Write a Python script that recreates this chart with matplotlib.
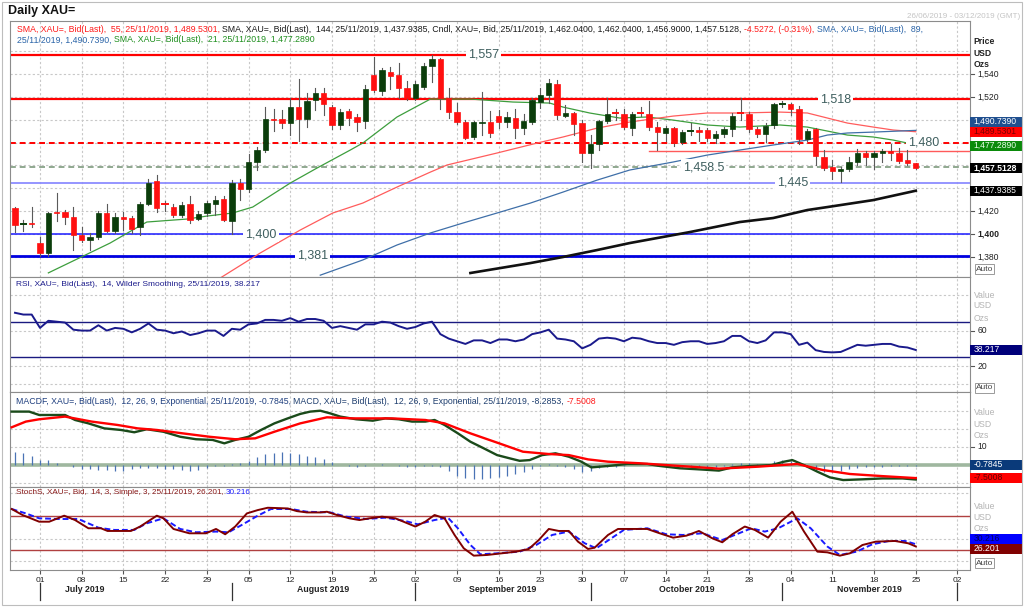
import numpy as np
import matplotlib.pyplot as plt
from matplotlib.patches import Rectangle

plt.rcParams['font.family'] = ['Liberation Sans', 'DejaVu Sans']

# one candle per trading day, 26/06/2019 .. 25/11/2019 (index 0 .. 108)
opens = [1423, 1409, 1410, 1392, 1383, 1419.5, 1419.5, 1415, 1399, 1395,
         1397, 1418, 1403, 1415, 1414, 1406, 1426, 1446, 1426, 1424,
         1417, 1426, 1413, 1418, 1426, 1430.5, 1411, 1445, 1439, 1463,
         1473.5, 1501, 1500.6, 1497, 1511, 1501, 1517, 1523.6, 1511, 1495,
         1507.6, 1502.6, 1499, 1539, 1525, 1541.5, 1539, 1527.5, 1519, 1529,
         1547, 1553, 1518.7, 1506.5, 1498, 1485, 1497, 1498, 1503, 1498,
         1501.7, 1493, 1498, 1515.8, 1522, 1531, 1503.5, 1505.6, 1497, 1471,
         1478.7, 1499, 1505.5, 1505, 1492.5, 1506, 1505, 1494, 1488, 1492.5,
         1480.8, 1490.5, 1491, 1491, 1483.7, 1487.5, 1491.6, 1505.5, 1505, 1491.6,
         1487.5, 1495.4, 1514, 1513.7, 1509, 1483, 1491.6, 1467.6, 1458.4, 1455.4,
         1456.6, 1463, 1471, 1467.6, 1471, 1472.9, 1471, 1464.7, 1462.04]
closes = [1408, 1409.8, 1409, 1383, 1418, 1418, 1415, 1399, 1395, 1397,
          1418, 1403, 1415, 1413, 1404, 1426, 1445, 1423, 1425.5, 1417,
          1425, 1412, 1417.5, 1427, 1430, 1412, 1445, 1439, 1463, 1473.5,
          1500.6, 1499.5, 1497, 1511, 1501, 1516.6, 1523, 1513.5, 1495, 1507,
          1501.7, 1498, 1527, 1526, 1543.5, 1538.5, 1527.5, 1519, 1531, 1547,
          1553, 1518.7, 1506.5, 1497.7, 1484, 1497.7, 1498, 1488, 1498, 1502.6,
          1493, 1499, 1517, 1521.6, 1531.8, 1504, 1505.6, 1496, 1471, 1478.7,
          1499, 1505, 1505, 1494, 1505, 1505.6, 1494, 1489.5, 1492.5, 1480,
          1489.5, 1491, 1489.5, 1483.7, 1487.5, 1491.6, 1503, 1505, 1491.6, 1487.5,
          1494.5, 1513.7, 1514.5, 1509, 1483, 1490.4, 1468, 1457.5, 1455.4, 1456.6,
          1463, 1471, 1467, 1470.6, 1472.9, 1471, 1464, 1461.8, 1457.51]
highs = [1424, 1412, 1424, 1397, 1419, 1436, 1421, 1424, 1406, 1400.6,
         1420, 1426, 1418, 1419, 1416, 1428, 1448, 1452, 1429, 1426,
         1428, 1433, 1420, 1429, 1433, 1433, 1447, 1448, 1470, 1476,
         1511, 1509, 1508.5, 1519, 1535.6, 1523, 1527.5, 1528, 1513, 1509,
         1509, 1505, 1530, 1555, 1545, 1546, 1550, 1534, 1534, 1550,
         1557, 1554, 1528, 1515, 1500, 1499, 1524, 1507.6, 1508.5, 1507,
         1509.4, 1505, 1519, 1528, 1536, 1535, 1513, 1507, 1500, 1486.6,
         1500, 1518.7, 1509, 1509, 1507, 1511, 1516.6, 1498, 1494.5, 1494,
         1491, 1496.8, 1494, 1492.5, 1490, 1494, 1505.6, 1518.7, 1507, 1493.6,
         1497, 1515, 1516, 1515, 1511.6, 1491.6, 1493, 1473.5, 1465, 1458.4,
         1467, 1474, 1473, 1472.9, 1474, 1479, 1475, 1473.5, 1462.04]
lows = [1402, 1403, 1406, 1381, 1381, 1411, 1409, 1386, 1393, 1386,
        1396, 1402, 1401, 1403.5, 1401, 1399, 1425, 1419.5, 1420, 1415,
        1415, 1410, 1412, 1416, 1417, 1411, 1400, 1430, 1437, 1456,
        1472, 1490, 1493, 1487, 1481, 1494, 1508.5, 1504, 1492, 1492,
        1495, 1490, 1492.5, 1524.5, 1522, 1527, 1519, 1517, 1517.5, 1527,
        1533, 1509, 1501.7, 1496, 1483, 1483, 1487, 1485, 1492.5, 1494,
        1483.7, 1487.5, 1496, 1510, 1515, 1500.6, 1502, 1486.6, 1463, 1457.5,
        1473.5, 1497, 1500, 1491.5, 1486.6, 1503, 1491, 1473.5, 1481.6, 1477,
        1479, 1486.6, 1481.6, 1481.6, 1480, 1485, 1486, 1500, 1489, 1485,
        1480.8, 1493, 1511, 1504, 1479, 1481.6, 1460, 1456, 1448, 1445.8,
        1455.4, 1460.4, 1460.4, 1456.6, 1463, 1464.7, 1462.4, 1460.4, 1456.9]

# moving averages (day index, price)
sma21_x = [4, 8.2, 11.4, 14.1, 15.8, 20.6, 23, 26.1, 28.5, 33, 36.2, 40.2, 41.7, 45.8, 49.8, 54.6, 59.7,
           64.1, 65.7, 68.9, 72.5, 75.8, 78.9, 83, 86.9, 91.7, 95, 97.4, 99.8, 102.9, 105.3, 107, 108]
sma21_y = [1366, 1380.8, 1392.1, 1403.5, 1410.5, 1413.1, 1415.7, 1418.4, 1423.6, 1444.6, 1457.7, 1473.5,
           1479.6, 1502.4, 1518.1, 1518.1, 1515.5, 1514.6, 1511.1, 1505.9, 1501.5, 1502.4, 1499.7, 1495.4,
           1493.6, 1495.4, 1493.6, 1490.1, 1486.6, 1484.9, 1482.2, 1479.6, 1477.3]
sma55_x = [24.6, 29.4, 34.2, 38.1, 41.7, 45.8, 49.8, 51.8, 57.8, 62.6, 65.7, 69.8, 73.7, 78.9, 83, 86.9,
           91.7, 95, 97.4, 99.8, 102.9, 105.3, 108]
sma55_y = [1361.5, 1383.4, 1403.5, 1418.4, 1427.1, 1441.1, 1454.2, 1460.4, 1470.9, 1479.6, 1484.9, 1492.7,
           1498, 1503.2, 1505.9, 1505.9, 1506.7, 1505.9, 1501.5, 1497.1, 1493.6, 1491, 1489.5]
sma89_x = [36.6, 41.7, 45.8, 49.8, 53.7, 57.8, 61.8, 65.7, 69.8, 73.7, 78.9, 83, 86.9, 90.9, 95, 97.4,
           99.8, 102.9, 108]
sma89_y = [1364, 1377.3, 1390.4, 1400.9, 1409.6, 1418.4, 1427.1, 1436.7, 1447.2, 1456, 1463, 1469.1,
           1473.5, 1477.9, 1482.2, 1486.6, 1488.4, 1489.2, 1490.7]
sma144_x = [54.6, 61.8, 65.7, 69.8, 73.7, 80.9, 86.9, 90.9, 95, 97.4, 102.9, 108]
sma144_y = [1365.9, 1374.6, 1379.9, 1386, 1392.1, 1401.7, 1410.5, 1414, 1421, 1423.6, 1429.7, 1437.9]

# RSI(14), one value per day
rsi = [80, 78, 78, 63, 71, 70, 69, 61, 60, 60, 66, 60, 63, 62, 58, 62, 68, 61, 60, 57,
       59, 55, 57, 60, 60, 54, 62, 61, 67, 68, 72, 72, 71, 74, 70, 73, 73, 71, 63, 65,
       63, 61, 67, 67, 70, 69, 65, 62, 64, 68, 70, 56, 51, 48, 45, 49, 49, 46, 50, 50,
       48, 50, 56, 58, 61, 51, 50, 48, 40, 44, 51, 52, 51, 48, 52, 51, 48, 46, 46, 44,
       47, 48, 48, 45, 46, 48, 54, 54, 48, 46, 49, 58, 58, 56, 44, 46.5, 38, 36, 35.5, 36,
       40, 44, 43, 44, 45, 45, 42, 41, 38.2]

# MACD(12,26,9)
macd_x = [-0.4, 1.7, 2.9, 4.5, 6, 7.2, 8.8, 10.7, 12.7, 14.3, 15.8, 17.8, 19.8, 21.7, 23.7, 25.1, 26.4,
          28, 29.5, 31.1, 32.7, 34.2, 35.4, 36.6, 37.8, 39, 40.9, 42.9, 44.4, 46, 47.6, 49.2, 50.3, 51.5,
          53.1, 54.6, 56.2, 57.8, 59.3, 60.5, 61.7, 63.2, 64.8, 66.4, 67.9, 69.1, 71.1, 73.4, 75.8, 77.3,
          79.7, 82, 84.4, 86, 88.3, 90.7, 92.2, 93.2, 94.6, 96.2, 97.7, 99.3, 101.6, 104, 106.4, 108]
macd_y = [29.8, 29.8, 27.9, 27.9, 27.9, 25.1, 23.2, 20.4, 19.5, 18.2, 19.9, 18.5, 15.7, 14.3, 13.9, 12,
          13.9, 15.7, 19.5, 23.2, 26, 28.5, 29.8, 30.3, 28.8, 27, 25.5, 24.7, 26, 25.5, 24.2, 24.2, 25.1,
          22.3, 17.6, 12.9, 9.2, 5.4, 3.6, 2.2, 2.6, 5.4, 6.4, 4.5, 1.7, -1.5, -0.7, 0.4, 0.4, -0.7, -2,
          -2.6, -3.3, -1.5, -0.7, -0.2, 1.7, 2.6, -0.2, -3.9, -7.1, -8.6, -8.2, -7.7, -7.7, -8.3]
sig_x = [-0.4, 1.3, 2.9, 6, 9.2, 12.3, 14.7, 17, 20.1, 23.3, 26.4, 28.8, 31.1, 34.2, 37.4, 40.5, 45.2,
         49.2, 51.5, 54.6, 57.8, 60.9, 64, 66.4, 68.7, 71.1, 75, 79.7, 84.4, 89.1, 93.8, 96.9, 100.1, 104, 108]
sig_y = [21, 24.2, 25.5, 27, 24.2, 22.3, 20.4, 19.5, 17.6, 15.7, 14.3, 14.8, 18.5, 23.2, 26.6, 26, 26,
         25.1, 23.2, 17.6, 12.4, 7.3, 6, 5.4, 3, 1.7, 0.8, -0.7, -2.2, -1.1, 0.4, -3, -5.2, -6.4, -7.5]
macd_hist = [7.3, 6.3, 4.8, 2.6, 2.6, 1.0, 0.0, -1.5, -2.4, -2.4, -3.0, -3.0, -3.4, -3.4, -2.4, -1.9,
             -1.9, -1.9, -2.4, -2.4, -3.0, -3.4, -3.0, -1.9, -0.6, -0.8, 0.3, 1.0, 2.3, 4.1, 6.0, 6.4,
             7.0, 6.4, 6.0, 5.0, 4.1, 3.2, 1.3, -0.3, -0.6, -1.0, -0.6, -0.3, 0.3, -0.3, -0.8, -1.0,
             -1.2, -0.8, -0.6, -1.5, -3.4, -6.2, -7.5, -8.0, -8.0, -7.5, -6.7, -6.2, -5.2, -4.3, -2.4,
             -0.6, 0.3, -0.6, -1.2, -2.4, -4.3, -3.4, -2.0, -1.5, -1.0, -0.5, -0.3, -0.2, -0.4, -0.8,
             -1.0, -1.2, -1.2, -1.0, -1.0, -1.2, -1.0, -0.6, 0.4, 1.0, 0.8, 0.5, 0.6, 1.9, 2.6, 1.9,
             -0.3, -1.2, -3.4, -4.3, -4.0, -3.4, -2.4, -1.9, -1.5, -1.2, -1.0, -0.8, -0.7, -0.8, -0.78]

# slow stochastics (14,3,3)
k_x = [-0.4, 0.9, 2.9, 4.1, 5.9, 7.2, 8.8, 10.3, 11.1, 13.9, 15, 17, 17.8, 19, 20.9, 22.9, 24.1, 25.2,
       26.4, 27.8, 29.1, 30.3, 32.7, 33.8, 35, 36.6, 37.4, 38.6, 40.1, 41.3, 42.5, 44, 45.6, 48, 49.2,
       50.3, 51.5, 52.7, 53.8, 55, 56.6, 60.1, 61.6, 62.8, 64, 65.2, 66.4, 67.5, 68.7, 69.5, 71.1, 72.3,
       74.2, 75.8, 77.3, 78.9, 80.5, 82, 83.6, 84.8, 86, 87.5, 88.7, 90.3, 91.8, 93.2, 94.6, 96.2, 97.4,
       98.9, 100.1, 101.6, 103.2, 105.5, 107.1, 108]
k_y = [91.7, 81.2, 69.5, 69.5, 80, 72.4, 58, 58, 53.3, 53.3, 61, 80, 75.4, 56.8, 49.2, 49.2, 56.8, 47.5,
       61, 84, 89.8, 93.9, 92.7, 88, 85.7, 85.7, 86.9, 81.2, 75.4, 72.4, 75.4, 78.3, 75.4, 61, 69.6, 81.2,
       75.4, 46.3, 23, 10.1, 11.3, 17.1, 21.8, 37.5, 56.8, 53.3, 53.3, 34.6, 21.8, 24.1, 46.3, 56.8, 56.8,
       56.8, 49.2, 41.6, 45.1, 53.3, 40.5, 33.5, 47.5, 61, 55.1, 41.6, 69.6, 86.9, 52.2, 17.1, 15.9, 10.1,
       14.2, 28.7, 34.6, 35.8, 31.7, 26.2]
d_x = [-0.4, 1.3, 2.9, 5.3, 7.6, 10, 11.9, 14.3, 15.8, 17.8, 19.8, 21.7, 24.1, 25.6, 27.2, 29.1, 30.7,
       33.1, 35, 37.8, 39.7, 42.1, 44.4, 46.8, 48.3, 50.3, 51.9, 53.1, 54.6, 55.8, 57.8, 60.5, 62.5, 64.4,
       66.4, 68.3, 69.7, 71.5, 73, 75.8, 78.1, 80.1, 82.4, 84.8, 86.3, 88.3, 89.9, 91.5, 93.8, 95.4, 97.4,
       98.9, 100.9, 102.8, 104.8, 106.7, 108]
d_y = [91.7, 84, 75.4, 74.2, 74.2, 59, 55.1, 55.1, 66.7, 75.4, 56.8, 51, 52.2, 51, 63.9, 80, 91.7, 91.7,
       86.9, 85.7, 78.3, 74.2, 76.6, 70.7, 64.9, 72.4, 76.6, 58, 28.8, 12.5, 14.2, 17.1, 28.8, 46.3, 52.2,
       31.8, 23, 40.5, 55.1, 58, 47.5, 46.3, 49.2, 37.5, 46.3, 58, 52.2, 58, 75.4, 58, 26, 11.3, 17.1, 30,
       35.8, 35.8, 30.2]

# date axis
tick_labels = ['01', '08', '15', '22', '29', '05', '12', '19', '26', '02', '09', '16', '23', '30',
               '07', '14', '21', '28', '04', '11', '18', '25', '02']
month_names = ['July 2019', 'August 2019', 'September 2019', 'October 2019', 'November 2019']
month_mid = [8.4, 36.9, 58.5, 80.5, 102.4]
month_start = [3, 26, 48, 69, 92, 113]

W, H = 1024, 607
fig = plt.figure(figsize=(W / 100, H / 100), dpi=100)
fig.patch.set_facecolor('white')


def panel(top, bottom):
    a = fig.add_axes([10 / W, 1 - bottom / H, 960 / W, (bottom - top) / H])
    a.set_xlim(-0.6, 114.5)
    a.set_xticks([])
    a.set_yticks([])
    for s in a.spines.values():
        s.set_color('#8c8c8c')
        s.set_linewidth(0.8)
    return a


ax_p = panel(21, 277)
ax_r = panel(277, 392)
ax_m = panel(392, 487)
ax_s = panel(487, 570)
ax_p.set_ylim(1362.4, 1586.4)
ax_r.set_ylim(-9, 120.2)
ax_m.set_ylim(-12.5, 40.8)
ax_s.set_ylim(-15, 130.2)

mondays = list(range(3, 114, 5))
grid_kw = dict(color='#c8c8c8', lw=0.8, ls=(0, (2, 2)), zorder=0)
for a, levels in [(ax_p, range(1380, 1561, 20)), (ax_r, [0, 20, 60, 100]),
                  (ax_m, [-10, 10, 20, 30]), (ax_s, [0, 40, 120])]:
    for v in levels:
        a.axhline(v, **grid_kw)
    for m in mondays:
        a.axvline(m, **grid_kw)

# ---- price panel
hl = [(1557, '#ff0000', 1.6, '-'), (1518, '#ff0000', 1.6, '-'), (1480, '#ff0000', 1.4, (0, (3, 2))),
      (1458.5, '#8fa88f', 1.4, (0, (3, 2))), (1445, '#8c8cff', 1.3, '-'),
      (1400, '#1a1aff', 1.1, '-'), (1381, '#0000e0', 2.0, '-')]
for v, c, w, ls in hl:
    ax_p.axhline(v, color=c, lw=w, ls=ls, zorder=2)
ax_p.plot([76, 114.5], [1473, 1473], color='#ff5a5a', lw=1.0, zorder=2)

lab_kw = dict(fontsize=9, color='#3f5f5f', ha='center', va='center', zorder=4,
              bbox=dict(boxstyle='square,pad=0.15', fc='white', ec='none'))
for v, xi, s in [(1557, 56.2, '1,557'), (1518, 98.4, '1,518'), (1480, 108.9, '1,480'),
                 (1458.5, 82.6, '1,458.5'), (1445, 93.2, '1,445'), (1400, 29.5, '1,400'),
                 (1381, 35.7, '1,381')]:
    ax_p.text(xi, v, s, **lab_kw)

ax_p.plot(sma21_x, sma21_y, color='#3d9e3d', lw=0.9, zorder=3)
ax_p.plot(sma55_x, sma55_y, color='#ff5c5c', lw=0.9, zorder=3)
ax_p.plot(sma89_x, sma89_y, color='#3f6fa8', lw=0.9, zorder=3)
ax_p.plot(sma144_x, sma144_y, color='#111111', lw=1.9, zorder=3)

for i, (o, h, l, c) in enumerate(zip(opens, highs, lows, closes)):
    col = '#0b3d0b' if c >= o else '#ff1010'
    ax_p.plot([i, i], [l, h], color='#5a5a5a', lw=0.8, zorder=5)
    if abs(c - o) < 1.0:
        ax_p.plot([i - 0.32, i + 0.32], [o, o], color=col, lw=1.4, zorder=6)
    else:
        ax_p.add_patch(Rectangle((i - 0.32, min(o, c)), 0.64, abs(c - o), fc=col, ec=col, lw=0.5, zorder=6))

# ---- RSI
ax_r.axhline(70, color='#1a1a80', lw=1.0, zorder=2)
ax_r.axhline(30, color='#1a1a80', lw=1.0, zorder=2)
ax_r.plot(range(len(rsi)), rsi, color='#1a1a8c', lw=1.4, zorder=3)

# ---- MACD
ax_m.axhline(0, color='#9fb79f', lw=2.6, zorder=2)
ax_m.vlines(range(len(macd_hist)), 0, macd_hist, color='#4a73b5', lw=0.9, zorder=3)
ax_m.plot(macd_x, macd_y, color='#1a4a1a', lw=1.7, zorder=4)
ax_m.plot(sig_x, sig_y, color='#ff0000', lw=1.7, zorder=4)

# ---- Stochastics
ax_s.axhline(80, color='#b04040', lw=1.0, zorder=2)
ax_s.axhline(20, color='#b04040', lw=1.0, zorder=2)
ax_s.plot(k_x, k_y, color='#800000', lw=1.4, zorder=4)
ax_s.plot(d_x, d_y, color='#1a1aff', lw=1.4, ls=(0, (3, 1.5)), zorder=3)

# ---- date axis
ax_s.set_xticks(mondays)
ax_s.set_xticklabels(tick_labels)
ax_s.tick_params(axis='x', length=3, pad=2, labelsize=6, color='#555555', labelcolor='#222222')
xt = ax_s.get_xaxis_transform()
for m in month_start:
    ax_s.plot([m, m], [-0.16, -0.36], transform=xt, color='#333333', lw=0.9, clip_on=False)
for xm, s in zip(month_mid, month_names):
    ax_s.text(xm, -0.235, s, transform=xt, ha='center', va='center', fontsize=6.3,
              fontweight='bold', color='#222222')


# ---- right-hand labels
def tag(ax, y, text, fc, tc, bold=False, h_px=10):
    y0, y1 = ax.get_ylim()
    h = h_px * (y1 - y0) / (ax.get_position().height * H)
    tr = ax.get_yaxis_transform()
    ax.add_patch(Rectangle((1.0, y - h / 2), 0.054, h, transform=tr, fc=fc, ec='none',
                           clip_on=False, zorder=7))
    ax.text(1.004, y, text, transform=tr, ha='left', va='center', fontsize=6.2, color=tc,
            fontweight='bold' if bold else 'normal', clip_on=False, zorder=8)


def side(ax, y, text, color='#222222', bold=False):
    ax.text(1.004, y, text, transform=ax.transAxes, ha='left', va='center', fontsize=6.2,
            color=color, fontweight='bold' if bold else 'normal', clip_on=False)


def ticklab(ax, v, text, bold=False):
    tr = ax.get_yaxis_transform()
    ax.plot([1.0, 1.004], [v, v], transform=tr, color='#555555', lw=0.8, clip_on=False)
    ax.text(1.008, v, text, transform=tr, ha='left', va='center', fontsize=6.2, color='#222222',
            fontweight='bold' if bold else 'normal', clip_on=False)


def auto(ax, y):
    ax.text(1.006, y, 'Auto', transform=ax.transAxes, ha='left', va='center', fontsize=6,
            color='#444444', clip_on=False,
            bbox=dict(boxstyle='square,pad=0.15', fc='white', ec='#9a9a9a', lw=0.7))


side(ax_p, 0.918, 'Price', bold=True)
side(ax_p, 0.875, 'USD', bold=True)
side(ax_p, 0.832, 'Ozs', bold=True)
for v in [1540, 1520, 1420, 1380]:
    ticklab(ax_p, v, f'{v:,}')
ticklab(ax_p, 1400, '1,400', bold=True)
tag(ax_p, 1498.3, '1,490.7390', '#1f4f8f', 'white')
tag(ax_p, 1489.5, '1,489.5301', '#ff0000', '#7a0000')
tag(ax_p, 1477.3, '1,477.2890', '#0a8a0a', '#e8ffe8')
tag(ax_p, 1457.5, '1,457.5128', '#000000', 'white', bold=True)
tag(ax_p, 1437.9, '1,437.9385', '#000000', 'white')
auto(ax_p, 0.031)

grey = '#b4b4b4'
side(ax_r, 0.843, 'Value', grey)
side(ax_r, 0.748, 'USD', grey)
side(ax_r, 0.643, 'Ozs', grey)
ticklab(ax_r, 60, '60')
ticklab(ax_r, 20, '20')
tag(ax_r, 38.2, '38.217', '#00007a', 'white')
auto(ax_r, 0.035)

side(ax_m, 0.779, 'Value', grey)
side(ax_m, 0.663, 'USD', grey)
side(ax_m, 0.537, 'Ozs', grey)
ticklab(ax_m, 10, '10')
tag(ax_m, 0.0, '-0.7845', '#0a3a7a', 'white')
tag(ax_m, -7.2, '-7.5008', '#ff0000', '#600000')

side(ax_s, 0.771, 'Value', grey)
side(ax_s, 0.627, 'USD', grey)
side(ax_s, 0.494, 'Ozs', grey)
tag(ax_s, 39.5, '30.216', '#0000ff', '#000060')
tag(ax_s, 22.0, '26.201', '#800000', 'white')
auto(ax_s, 0.084)

# ---- headers
renderer = fig.canvas.get_renderer()


def header(x_px, y_px, parts, size=6.2):
    x = x_px
    for s, c in parts:
        t = fig.text(x / W, 1 - y_px / H, s, color=c, fontsize=size, ha='left', va='center')
        x += t.get_window_extent(renderer=renderer).width


red, blk, blu, grn = '#ff1a1a', '#1a1a1a', '#2a64a8', '#1f8f1f'
header(17, 30, [('SMA, XAU=, Bid(Last),  55, 25/11/2019, 1,489.5301, ', red),
                ('SMA, XAU=, Bid(Last),  144, 25/11/2019, 1,437.9385, Cndl, XAU=, Bid, 25/11/2019, '
                 '1,462.0400, 1,462.0400, 1,456.9000, 1,457.5128, ', blk),
                ('-4.5272, (-0.31%), ', red), ('SMA, XAU=, Bid(Last),  89,', blu)], size=6.3)
header(17, 40, [('25/11/2019, 1,490.7390, ', blu),
                ('SMA, XAU=, Bid(Last),  21, 25/11/2019, 1,477.2890', grn)], size=6.3)
header(16, 284, [('RSI, XAU=, Bid(Last),  14, Wilder Smoothing, 25/11/2019, 38.217', '#1c1c8c')], size=6.0)
header(16, 401, [('MACDF, XAU=, Bid(Last),  12, 26, 9, Exponential, 25/11/2019, -0.7845, ', '#1f3f7f'),
                 ('MACD, XAU=, Bid(Last),  12, 26, 9, Exponential, 25/11/2019, -8.2853, ', '#1f3f6f'),
                 ('-7.5008', '#ff1a1a')], size=6.3)
header(16, 492, [('StochS, XAU=, Bid,  14, 3, Simple, 3, 25/11/2019, 26.201, ', '#8b1a1a'),
                 ('30.216', '#2020ff')], size=5.9)

fig.text(8 / W, 1 - 11 / H, 'Daily XAU=', fontsize=9, fontweight='bold', color='#111111',
         ha='left', va='center')
fig.text(1020 / W, 1 - 17 / H, '26/06/2019 - 03/12/2019 (GMT)', fontsize=5.8, color='#c4c4c4',
         ha='right', va='center')
fig.add_artist(Rectangle((2 / W, 2 / H), 1020 / W, 603 / H, transform=fig.transFigure,
                         fc='none', ec='#bdbdbd', lw=0.8))

fig.savefig('out.png', dpi=100)
